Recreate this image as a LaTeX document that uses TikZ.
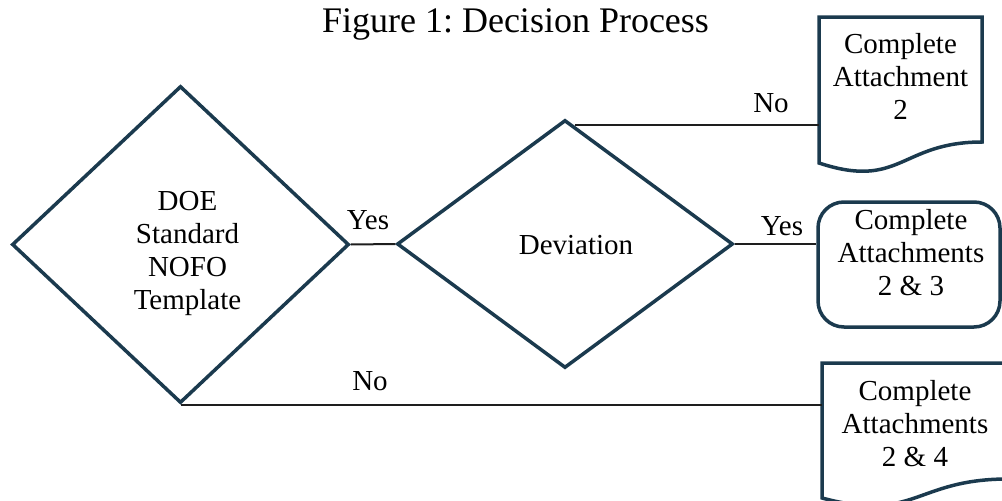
\documentclass[tikz,border=0pt]{standalone}
\usepackage{fontspec}
\setmainfont{Liberation Serif}
\usetikzlibrary{shapes.geometric,calc}
\definecolor{outl}{HTML}{1B3A4E}
\definecolor{linkc}{HTML}{1E1E1E}
\newcommand{\mystack}[1]{\begin{tabular}{@{}c@{}}#1\end{tabular}}
\newcommand{\shiftxt}[3]{\raisebox{#2}[\height][\depth]{\hspace*{#1}#3}}
\frenchspacing
\begin{document}
\begin{tikzpicture}[x=1pt,y=-1pt,
  every node/.style={font=\rmfamily\fontsize{29}{33}\selectfont, inner sep=0pt},
  shapeline/.style={draw=outl, line width=3.5pt},
  decision/.style={shapeline, diamond, inner sep=0pt},
  docbox/.style={rectangle, inner sep=0pt, outer sep=0pt},
  altbox/.style={shapeline, rectangle, rounded corners=26pt, inner sep=0pt},
  link/.style={draw=linkc, line width=2pt},
  lbl/.style={anchor=base}]
\useasboundingbox (0,0) rectangle (1002,501);
\clip (0,0) rectangle (1002,501);

\node[font=\rmfamily\fontsize{36}{40}\selectfont, anchor=base] (title) at (515.5,32) {Figure 1: Decision Process};

\node[decision, minimum width=337pt, minimum height=317pt] (d1) at (180.5,244.5)
  {\shiftxt{14pt}{-9pt}{\mystack{DOE\\Standard\\NOFO\\Template}}};
\node[decision, minimum width=336pt, minimum height=248pt] (d2) at (565,244)
  {\shiftxt{22pt}{-4pt}{\mystack{Deviation}}};

\node[docbox, minimum width=163pt, minimum height=125pt] (doc1) at (900.5,79.5)
  {\mystack{Complete\\Attachment\\2}};
\draw[shapeline] (doc1.south east) -- (doc1.north east) -- (doc1.north west)
  -- ($(doc1.south west)+(0,21)$) .. controls ($(doc1.south)+(0,48)$) and (doc1.south) .. (doc1.south east) -- cycle;

\node[altbox, minimum width=182pt, minimum height=125pt] (alt) at (909,264.5)
  {\shiftxt{4pt}{8.5pt}{\mystack{Complete\\Attachments\\2 \& 3}}};

\node[docbox, minimum width=186pt, minimum height=116pt] (doc3) at (915,421)
  {\shiftxt{0pt}{-6pt}{\mystack{Complete\\Attachments\\2 \& 4}}};
\draw[shapeline] (doc3.south east) -- (doc3.north east) -- (doc3.north west)
  -- ($(doc3.south west)+(0,19)$) .. controls ($(doc3.south)+(0,44)$) and (doc3.south) .. (doc3.south east) -- cycle;

\coordinate (n1) at ($(d2.north)!0.056!(d2.east)$);
\draw[link] (d1.east) -- (d2.west);
\draw[link] (n1) -- (n1 -| doc1.west);
\draw[link] (d2.east) -- (d2.east -| alt.west);
\draw[link] (d1.south) -- (d1.south -| doc3.west);

\node[lbl] (yes1) at (368,229) {Yes};
\node[lbl] (no1) at (771,112) {No};
\node[lbl] (yes2) at (782,235) {Yes};
\node[lbl] (no2) at (370,390) {No};
\end{tikzpicture}
\end{document}
